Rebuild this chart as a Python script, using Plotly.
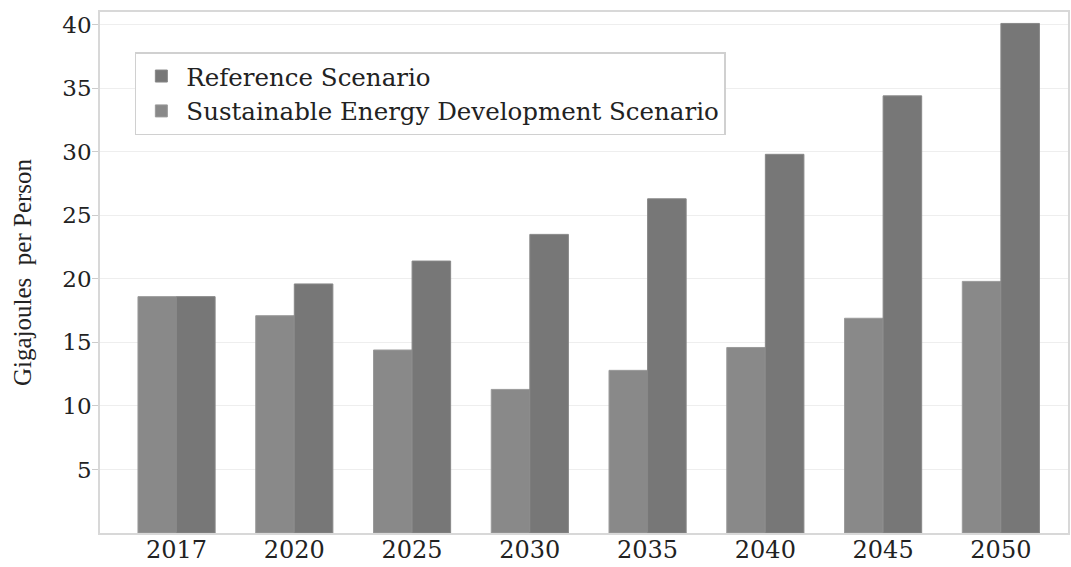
import plotly.graph_objects as go

years = ["2017", "2020", "2025", "2030", "2035", "2040", "2045", "2050"]
sustainable = [18.6, 17.1, 14.4, 11.3, 12.8, 14.6, 16.9, 19.8]
reference = [18.6, 19.6, 21.4, 23.5, 26.3, 29.8, 34.4, 40.1]
y_ticks = [5, 10, 15, 20, 25, 30, 35, 40]

wide_serif = "DejaVu Serif, serif"
serif = "Liberation Serif, Times New Roman, serif"
ink = "#222222"

fig = go.Figure()
fig.add_trace(go.Bar(
    x=years, y=sustainable, name="Sustainable Energy Development Scenario",
    marker=dict(color="#898989", line=dict(color="#9a9a9a", width=1)),
))
fig.add_trace(go.Bar(
    x=years, y=reference, name="Reference Scenario",
    marker=dict(color="#777777", line=dict(color="#888888", width=1)),
))

fig.update_layout(
    width=1071, height=567,
    margin=dict(l=100, r=3, t=12, b=34),
    plot_bgcolor="white", paper_bgcolor="white",
    barmode="group", bargap=0.345, bargroupgap=0,
    font=dict(family=wide_serif, size=23, color=ink),
    showlegend=True,
    legend=dict(
        x=0.036, y=0.923, xanchor="left", yanchor="top",
        traceorder="reversed",
        bgcolor="white", bordercolor="#d0d0d0", borderwidth=1.5,
        font=dict(family=wide_serif, size=24.5, color=ink),
        itemwidth=40, tracegroupgap=0,
    ),
)
fig.update_xaxes(
    type="category", range=[-0.65, 7.57], automargin=False,
    showline=True, linecolor="#d8d8d8", linewidth=1.5, mirror=True,
    showgrid=False, ticks="", ticklabelstandoff=-6,
    tickfont=dict(family=wide_serif, size=24, color=ink),
)
fig.update_yaxes(
    range=[0, 41], tickvals=y_ticks, automargin=False,
    showline=True, linecolor="#d8d8d8", linewidth=1.5, mirror=True,
    showgrid=True, gridcolor="#eeeeee", gridwidth=1.2,
    ticks="outside", ticklen=6, tickcolor="#cccccc", ticklabelstandoff=-4,
    tickfont=dict(family=wide_serif, size=23, color=ink),
    title=dict(text="Gigajoules  per Person", font=dict(family=serif, size=25, color=ink), standoff=24),
    zeroline=False,
)

fig.write_html("out.html", config={"displayModeBar": False},
               post_script="document.body.style.margin='0';")
